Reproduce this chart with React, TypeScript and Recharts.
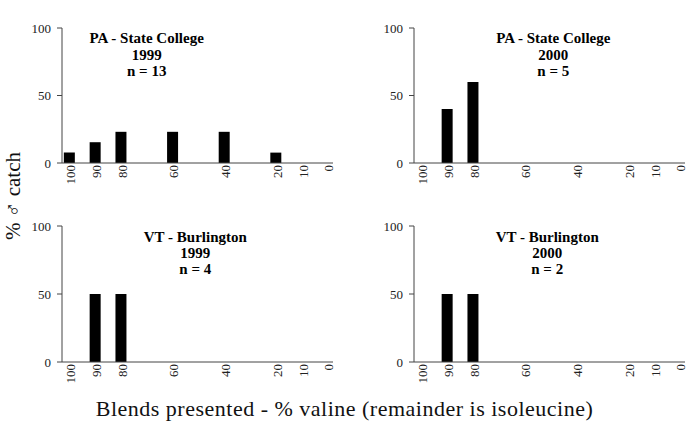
import React from 'react';
import { BarChart, Bar, XAxis, YAxis } from 'recharts';

const blends = [100, 90, 80, 60, 40, 20, 10, 0];
const paStateCollege1999 = [7.7, 15.4, 23.1, 23.1, 23.1, 7.7, 0, 0];
const paStateCollege2000 = [0, 40, 60, 0, 0, 0, 0, 0];
const vtBurlington1999 = [0, 50, 50, 0, 0, 0, 0, 0];
const vtBurlington2000 = [0, 50, 50, 0, 0, 0, 0, 0];
const yTicks = [0, 50, 100];

const titles1 = ['PA - State College', '1999', 'n = 13'];
const titles2 = ['PA - State College', '2000', 'n = 5'];
const titles3 = ['VT - Burlington', '1999', 'n = 4'];
const titles4 = ['VT - Burlington', '2000', 'n = 2'];

const yLabel = '% \u2642 catch';
const xLabel = 'Blends presented - % valine (remainder is isoleucine)';

const FONT = '"Liberation Serif", "Times New Roman", serif';
const AXIS = '#444';

const build = (vals: number[]) => blends.map((b, i) => ({ blend: b, pct: vals[i] }));

const XTick = (props: any) => {
  const { x, y, payload } = props;
  return (
    <text
      x={x}
      y={y}
      transform={`rotate(-90 ${x} ${y})`}
      textAnchor="end"
      dy={5.5}
      fontSize={13}
      fontFamily={FONT}
      fill="#222"
    >
      {payload.value}
    </text>
  );
};

type PanelProps = {
  vals: number[];
  left: number;
  top: number;
  width: number;
  height: number;
  margin: { top: number; right: number; bottom: number; left: number };
};

const Panel = ({ vals, left, top, width, height, margin }: PanelProps) => (
  <div style={{ position: 'absolute', left, top, width, height }}>
    <BarChart width={width} height={height} data={build(vals)} margin={margin}>
      <XAxis
        dataKey="blend"
        type="number"
        domain={[-2, 103]}
        reversed
        ticks={blends}
        interval={0}
        allowDataOverflow
        tickLine={false}
        tickSize={0}
        tickMargin={2}
        height={30}
        stroke={AXIS}
        tick={<XTick />}
      />
      <YAxis
        domain={[0, 100]}
        ticks={yTicks}
        interval={0}
        width={40}
        tickSize={5}
        tickMargin={6}
        stroke={AXIS}
        tick={{ fontSize: 13, fontFamily: FONT, fill: '#222' }}
      />
      <Bar dataKey="pct" fill="#000" barSize={11} isAnimationActive={false} />
    </BarChart>
  </div>
);

const Title = ({ lines, cx, y0 }: { lines: string[]; cx: number; y0: number }) => (
  <>
    {lines.map((t, i) => (
      <text
        key={i}
        x={cx}
        y={y0 + i * 16.3}
        textAnchor="middle"
        fontSize={15}
        fontWeight="bold"
        fontFamily={FONT}
        fill="#000"
      >
        {t}
      </text>
    ))}
  </>
);

export default function App() {
  return (
    <div style={{ position: 'absolute', left: 0, top: 0, width: 687, height: 424, background: '#fff' }}>
      <Panel vals={paStateCollege1999} left={0} top={0} width={343} height={200}
        margin={{ top: 28, right: 10, bottom: 7, left: 22 }} />
      <Panel vals={paStateCollege2000} left={343} top={0} width={344} height={200}
        margin={{ top: 28, right: 2, bottom: 7, left: 31 }} />
      <Panel vals={vtBurlington1999} left={0} top={200} width={343} height={200}
        margin={{ top: 26, right: 10, bottom: 8, left: 22 }} />
      <Panel vals={vtBurlington2000} left={343} top={200} width={344} height={200}
        margin={{ top: 26, right: 2, bottom: 8, left: 31 }} />
      <svg width={687} height={424} style={{ position: 'absolute', left: 0, top: 0, pointerEvents: 'none' }}>
        <Title lines={titles1} cx={146.7} y0={43.3} />
        <Title lines={titles2} cx={553.3} y0={43.3} />
        <Title lines={titles3} cx={195.3} y0={241.7} />
        <Title lines={titles4} cx={547.2} y0={241.7} />
        <text
          transform="translate(20 196) rotate(-90)"
          textAnchor="middle"
          fontSize={21}
          fontFamily={FONT}
          fill="#111"
        >
          {yLabel}
        </text>
        <text x={344.5} y={416} textAnchor="middle" fontSize={22} letterSpacing={0.5} fontFamily={FONT} fill="#111">
          {xLabel}
        </text>
      </svg>
    </div>
  );
}
